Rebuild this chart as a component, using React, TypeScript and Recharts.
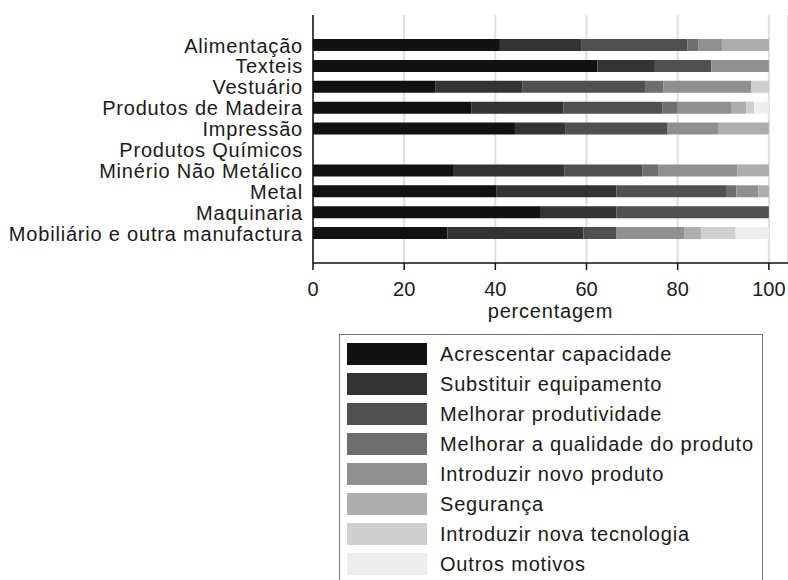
import React from 'react';
import {
  BarChart,
  Bar,
  XAxis,
  YAxis,
  CartesianGrid,
} from 'recharts';

const sectors = [
  'Alimentação',
  'Texteis',
  'Vestuário',
  'Produtos de Madeira',
  'Impressão',
  'Produtos Químicos',
  'Minério Não Metálico',
  'Metal',
  'Maquinaria',
  'Mobiliário e outra manufactura',
];

const acrescentarCapacidade = [41.0, 62.4, 26.8, 34.8, 44.3, 0, 30.9, 40.3, 49.8, 29.5];
const substituirEquipamento = [17.8, 12.6, 19.2, 20.1, 11.0, 0, 24.2, 26.3, 16.8, 29.8];
const melhorarProdutividade = [23.3, 12.4, 27.0, 21.7, 22.5, 0, 17.2, 24.0, 33.4, 7.3];
const melhorarQualidade = [2.5, 0, 3.9, 3.4, 0, 0, 3.4, 2.3, 0, 0];
const novoProduto = [5.1, 12.6, 19.2, 11.7, 11.2, 0, 17.4, 4.8, 0, 14.8];
const seguranca = [10.3, 0, 0, 3.3, 11.0, 0, 6.9, 2.3, 0, 3.7];
const novaTecnologia = [0, 0, 3.9, 1.8, 0, 0, 0, 0, 0, 7.6];
const outrosMotivos = [0, 0, 0, 3.2, 0, 0, 0, 0, 0, 7.3];

const xTicks = [0, 20, 40, 60, 80, 100];

const series = [
  { key: 'acrescentar', name: 'Acrescentar capacidade', values: acrescentarCapacidade, color: '#111111' },
  { key: 'substituir', name: 'Substituir equipamento', values: substituirEquipamento, color: '#333333' },
  { key: 'produtividade', name: 'Melhorar produtividade', values: melhorarProdutividade, color: '#505050' },
  { key: 'qualidade', name: 'Melhorar a qualidade do produto', values: melhorarQualidade, color: '#6e6e6e' },
  { key: 'novoProduto', name: 'Introduzir novo produto', values: novoProduto, color: '#8f8f8f' },
  { key: 'seguranca', name: 'Segurança', values: seguranca, color: '#adadad' },
  { key: 'tecnologia', name: 'Introduzir nova tecnologia', values: novaTecnologia, color: '#cfcfcf' },
  { key: 'outros', name: 'Outros motivos', values: outrosMotivos, color: '#eeeeee' },
];

const data = sectors.map((name, i) => {
  const row: Record<string, string | number> = { name };
  series.forEach((s) => {
    row[s.key] = s.values[i];
  });
  return row;
});

const FONT = '"Liberation Sans", Arial, sans-serif';
const TEXT = '#1a1a1a';
// reference text is a little wider than Liberation Sans at the same height
const SPACING = 0.8;

export default function App() {
  return (
    <div
      style={{
        position: 'absolute',
        left: 0,
        top: 0,
        width: 788,
        height: 580,
        overflow: 'hidden',
        background: '#fff',
        fontFamily: FONT,
      }}
    >
      <BarChart
        width={788}
        height={330}
        data={data}
        layout="vertical"
        margin={{ top: 15, right: 0, bottom: 0, left: 0 }}
        style={{ fontFamily: FONT }}
      >
        <CartesianGrid horizontal={false} stroke="#dedede" strokeWidth={2} />
        <XAxis
          type="number"
          domain={[0, 104.2]}
          ticks={xTicks}
          allowDataOverflow
          height={67}
          tickSize={7}
          tickMargin={12}
          stroke="#111"
          tick={{ fontSize: 20, fill: TEXT }}
          axisLine={{ stroke: '#111', strokeWidth: 1.5 }}
          tickLine={{ stroke: '#111', strokeWidth: 1.5 }}
          label={{
            value: 'percentagem',
            position: 'insideBottom',
            offset: 12,
            fontSize: 20,
            fill: TEXT,
            style: { letterSpacing: SPACING },
          }}
        />
        <XAxis
          xAxisId="top"
          orientation="top"
          type="number"
          domain={[0, 104.2]}
          height={0}
          tick={false}
          tickLine={false}
          axisLine={{ stroke: '#555', strokeWidth: 1.5 }}
        />
        <YAxis
          type="category"
          dataKey="name"
          width={313}
          padding={{ top: 20, bottom: 19 }}
          tickSize={0}
          tickMargin={10}
          tickLine={false}
          interval={0}
          tick={{ fontSize: 20, fill: TEXT, style: { letterSpacing: SPACING } }}
          axisLine={{ stroke: '#111', strokeWidth: 1.5 }}
        />
        {series.map((s) => (
          <Bar
            key={s.key}
            dataKey={s.key}
            name={s.name}
            stackId="a"
            fill={s.color}
            barSize={12}
            isAnimationActive={false}
          />
        ))}
      </BarChart>
      <div
        style={{
          position: 'absolute',
          left: 339,
          top: 334,
          width: 424,
          height: 270,
          border: '1px solid #777',
          boxSizing: 'border-box',
          paddingTop: 4,
          paddingLeft: 7,
        }}
      >
        {series.map((s) => (
          <div
            key={s.key}
            style={{ display: 'flex', alignItems: 'center', height: 30 }}
          >
            <div
              style={{
                width: 80,
                height: 22,
                background: s.color,
                marginRight: 13,
                flexShrink: 0,
              }}
            />
            <span
              style={{
                fontSize: 20,
                color: TEXT,
                whiteSpace: 'nowrap',
                letterSpacing: SPACING,
                lineHeight: '22px',
              }}
            >
              {s.name}
            </span>
          </div>
        ))}
      </div>
    </div>
  );
}
